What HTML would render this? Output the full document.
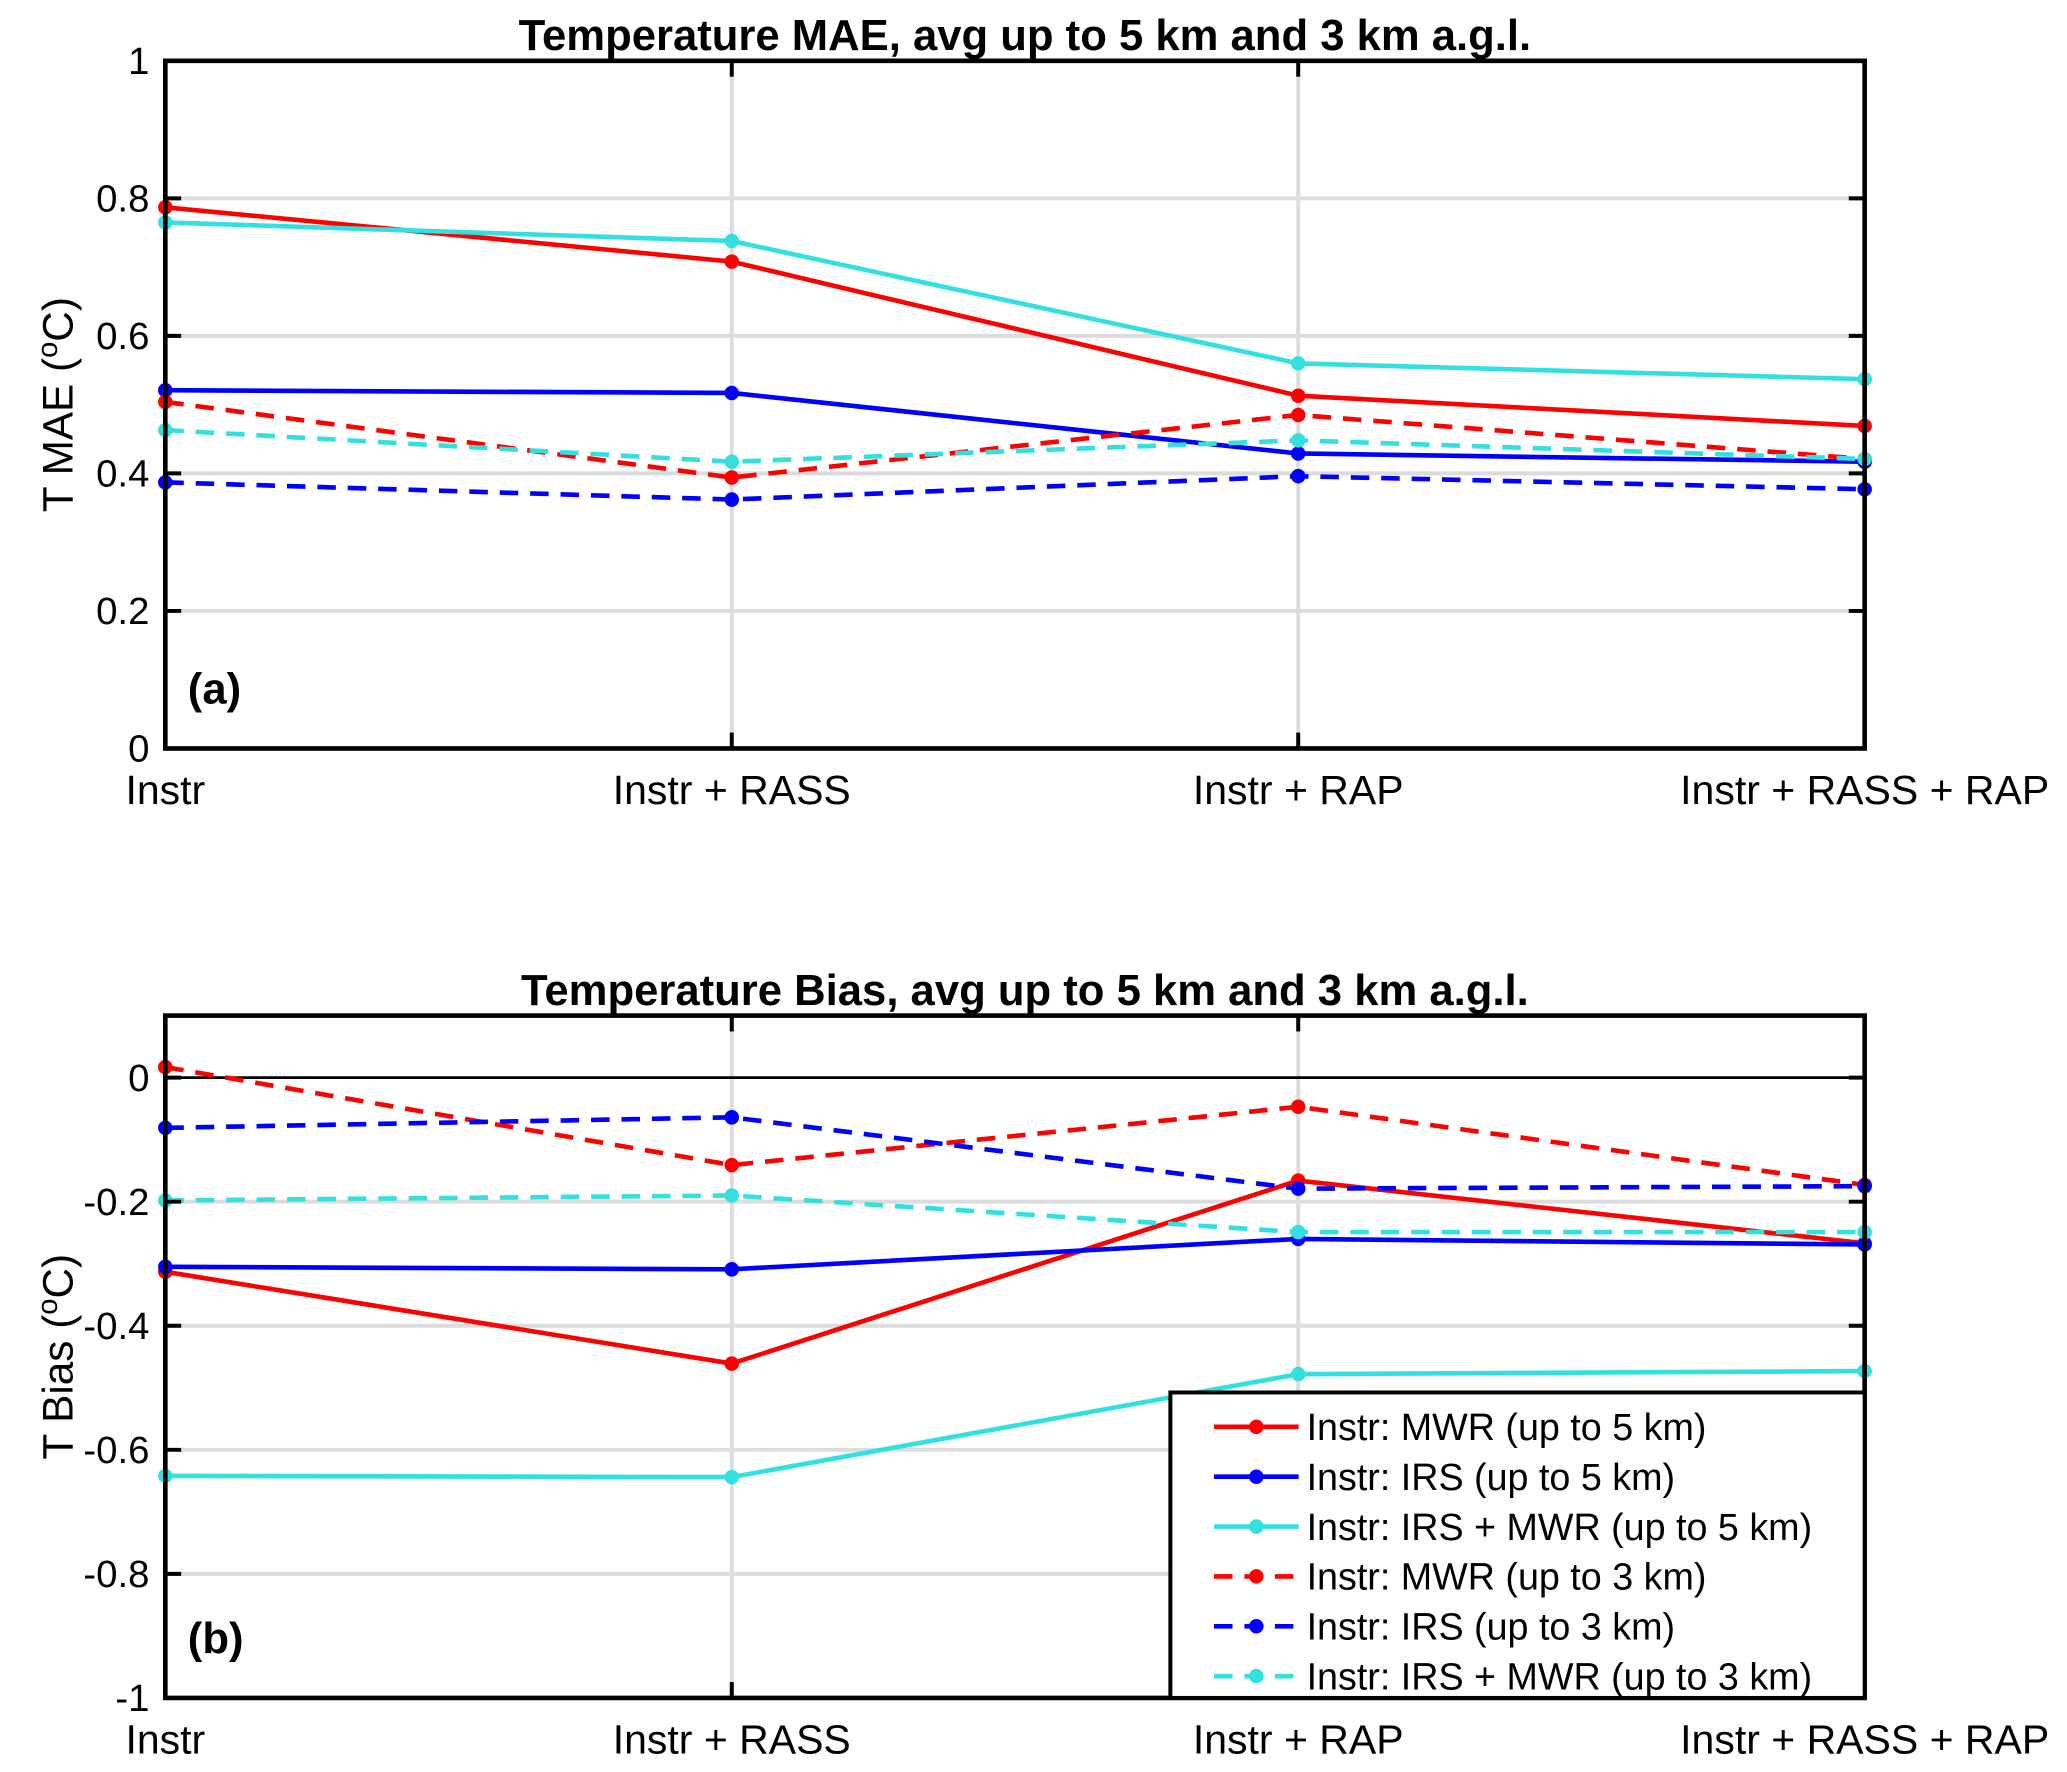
<!DOCTYPE html>
<html><head><meta charset="utf-8"><style>html,body{margin:0;padding:0;background:#fff}svg{display:block}text{font-family:"Liberation Sans",Arial,sans-serif}</style></head>
<body>
<svg id="chart" width="2067" height="1772" viewBox="0 0 1563 1340" preserveAspectRatio="none" xmlns="http://www.w3.org/2000/svg"></svg>
<script>
const categories = ["Instr","Instr + RASS","Instr + RAP","Instr + RASS + RAP"];
const seriesNames = ["Instr: MWR (up to 5 km)","Instr: IRS (up to 5 km)","Instr: IRS + MWR (up to 5 km)","Instr: MWR (up to 3 km)","Instr: IRS (up to 3 km)","Instr: IRS + MWR (up to 3 km)"];
const maeMWR5 = [0.787,0.708,0.513,0.469];
const maeIRS5 = [0.521,0.517,0.429,0.417];
const maeIRSMWR5 = [0.765,0.738,0.560,0.537];
const maeMWR3 = [0.504,0.394,0.485,0.421];
const maeIRS3 = [0.387,0.362,0.396,0.377];
const maeIRSMWR3 = [0.463,0.417,0.448,0.421];
const biasMWR5 = [-0.313,-0.461,-0.166,-0.267];
const biasIRS5 = [-0.305,-0.309,-0.260,-0.269];
const biasIRSMWR5 = [-0.642,-0.644,-0.478,-0.473];
const biasMWR3 = [0.017,-0.141,-0.047,-0.173];
const biasIRS3 = [-0.081,-0.064,-0.179,-0.175];
const biasIRSMWR3 = [-0.198,-0.190,-0.249,-0.249];
const maeTicks = [0,0.2,0.4,0.6,0.8,1];
const maeTickLabels = ["0","0.2","0.4","0.6","0.8","1"];
const biasTicks = [-1,-0.8,-0.6,-0.4,-0.2,0];
const biasTickLabels = ["-1","-0.8","-0.6","-0.4","-0.2","0"];

const colors=["#ff0000","#0000ff","#33e0e0","#ff0000","#0000ff","#33e0e0"];
const dashed=[false,false,false,true,true,true];
const svg=document.getElementById('chart');
const NS='http://www.w3.org/2000/svg';
function mk(tag,attrs,parent){const e=document.createElementNS(NS,tag);for(const k in attrs)e.setAttribute(k,attrs[k]);(parent||svg).appendChild(e);return e;}
const X0=125,X1=1410;
function xs(i){return X0+(X1-X0)*i/(categories.length-1);}

function panel(id,top,bottom,ymin,ymax,ticks,tickLabels,series,title,ylabel,letter,zeroLine){
  const g=mk('g',{});
  
  
  const ys=v=>bottom-(v-ymin)/(ymax-ymin)*(bottom-top);
  ticks.forEach((t,i)=>{
    if(t!==ymin&&t!==ymax&&!(zeroLine&&t===0)){const l=mk('line',{x1:X0,x2:X1,y1:ys(t),y2:ys(t),stroke:'#dcdcdc','stroke-width':3},g);
    }
  });
  categories.forEach((c,i)=>{
    if(i>0&&i<categories.length-1){const l=mk('line',{x1:xs(i),x2:xs(i),y1:top,y2:bottom,stroke:'#dcdcdc','stroke-width':3},g);
    }
  });
  if(zeroLine){const z=mk('line',{x1:X0,x2:X1,y1:ys(0),y2:ys(0),stroke:'#000','stroke-width':2},g);
    }
  series.forEach((s,k)=>{
    const pts=s.map((v,i)=>xs(i)+','+ys(v)).join(' ');
    const pl=mk('polyline',{points:pts,fill:'none',stroke:colors[k],'stroke-width':3.5,'stroke-dasharray':dashed[k]?'14 9':'none'},g);
    
    
    s.forEach((v,i)=>{const c=mk('circle',{cx:xs(i),cy:ys(v),r:5.5,fill:colors[k]},g);
      });
  });
  const box=mk('rect',{x:X0,y:top,width:X1-X0,height:bottom-top,fill:'none',stroke:'#000','stroke-width':3.5},g);
  
  ticks.forEach((t,i)=>{
    mk('line',{x1:X0,x2:X0+12,y1:ys(t),y2:ys(t),stroke:'#000','stroke-width':3},g);
    mk('line',{x1:X1,x2:X1-12,y1:ys(t),y2:ys(t),stroke:'#000','stroke-width':3},g);
    const tx=mk('text',{x:X0-12,y:ys(t)+10,'text-anchor':'end','font-size':29},g);tx.textContent=tickLabels[i];
    
  });
  categories.forEach((c,i)=>{
    mk('line',{x1:xs(i),x2:xs(i),y1:bottom,y2:bottom-12,stroke:'#000','stroke-width':3},g);
    mk('line',{x1:xs(i),x2:xs(i),y1:top,y2:top+12,stroke:'#000','stroke-width':3},g);
    const tx=mk('text',{x:xs(i),y:bottom+42,'text-anchor':'middle','font-size':31},g);tx.textContent=c;
    
  });
  const tt=mk('text',{x:775,y:top-8,'text-anchor':'middle','font-size':33,'font-weight':'bold'},g);tt.textContent=title;
  
  const yl=mk('text',{x:0,y:0,'text-anchor':'middle','font-size':32,transform:'translate(55,'+((top+bottom)/2)+') rotate(-90)'},g);
  yl.innerHTML=ylabel;
  
  const lt=mk('text',{x:142,y:bottom-34,'font-size':33,'font-weight':'bold'},g);lt.textContent=letter;
  
  return g;
}
panel('mae',46,566,0,1,maeTicks,maeTickLabels,[maeMWR5,maeIRS5,maeIRSMWR5,maeMWR3,maeIRS3,maeIRSMWR3],
 'Temperature MAE, avg up to 5 km and 3 km a.g.l.','T MAE (<tspan font-size="22" dy="-12">o</tspan><tspan dy="12">C)</tspan>','(a)',false);
panel('bias',768,1284,-1,0.1,biasTicks,biasTickLabels,[biasMWR5,biasIRS5,biasIRSMWR5,biasMWR3,biasIRS3,biasIRSMWR3],
 'Temperature Bias, avg up to 5 km and 3 km a.g.l.','T Bias (<tspan font-size="22" dy="-12">o</tspan><tspan dy="12">C)</tspan>','(b)',true);

const lg=mk('g',{});

const lb=mk('rect',{x:885,y:1053,width:525,height:231,fill:'#fff',stroke:'#000','stroke-width':3},lg);

seriesNames.forEach((n,k)=>{
  const y=1079+k*37.7;
  const e=mk('g',{},lg);
  
  mk('line',{x1:918,x2:982,y1:y,y2:y,stroke:colors[k],'stroke-width':3.5,'stroke-dasharray':dashed[k]?'14 9':'none'},e);
  mk('circle',{cx:950,cy:y,r:5.5,fill:colors[k]},e);
  const t=mk('text',{x:988,y:y+10,'font-size':28.5},e);t.textContent=n;
});
</script>
</body></html>
